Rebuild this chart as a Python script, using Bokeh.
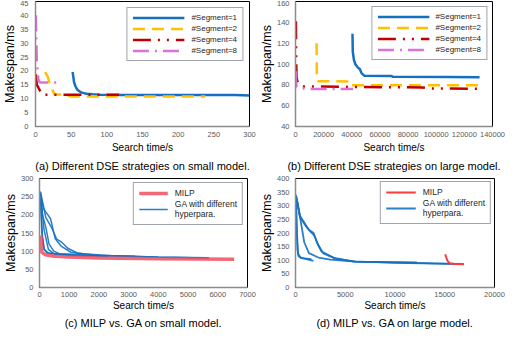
from bokeh.plotting import figure
from bokeh.layouts import column, row
from bokeh.models import Range1d, FixedTicker, Legend, LegendItem, Title, BasicTickFormatter
from bokeh.embed import file_html
from bokeh.resources import INLINE

FONT = "Liberation Sans"

# ---------------- data (a) small model, DSE strategies ----------------
a_x_ticks = [0, 50, 100, 150, 200, 250, 300]
a_y_ticks = [0, 5, 10, 15, 20, 25, 30, 35, 40, 45]
a_seg1_x = [52, 53, 54, 56, 58.5, 61, 64, 68, 72, 80, 90, 120, 280, 300]
a_seg1_y = [19.6, 18.0, 16.0, 14.5, 13.3, 12.8, 12.3, 12.0, 11.8, 11.6, 11.4, 11.3, 11.3, 11.2]
a_seg2_x = [13.5, 17, 20, 23, 27, 43, 47, 50, 238]
a_seg2_y = [19.6, 18.0, 15.5, 13.5, 11.5, 11.5, 11.0, 10.8, 10.8]
a_seg4_x = [0.5, 1, 2, 5, 8, 10, 117]
a_seg4_y = [18.8, 17, 15, 13.5, 12, 11.4, 11.4]
a_seg8_x = [0.5, 1, 1.5, 2, 3, 4, 6, 30]
a_seg8_y = [40, 33, 27, 23, 19.6, 17, 15.8, 15.8]

# ---------------- data (b) large model, DSE strategies ----------------
b_x_ticks = [0, 20000, 40000, 60000, 80000, 100000, 120000, 140000]
b_y_ticks = [40, 60, 80, 100, 120, 140, 160]
b_seg1_x = [40500, 40700, 41500, 42500, 44000, 45800, 47000, 49000, 68000, 69000, 108000, 130800]
b_seg1_y = [129, 112, 104, 100, 97, 95, 91, 88.8, 88.5, 87.8, 87.5, 87.3]
b_seg2_x = [15000, 15200, 16000, 38000, 38500, 130500]
b_seg2_y = [120, 84, 83.5, 83.3, 79.5, 79.5]
b_seg4_x = [300, 500, 700, 1200, 2500, 4500, 40000, 90000, 95000, 130000]
b_seg4_y = [141, 105, 88, 84, 81, 78.5, 78, 77.5, 76.5, 76.3]
b_seg8_x = [200, 400, 800, 2000, 6000, 10000, 41000]
b_seg8_y = [93, 82, 78, 77, 76.5, 76, 76]

# ---------------- data (c) small model, MILP vs GA ----------------
c_x_ticks = [0, 1000, 2000, 3000, 4000, 5000, 6000, 7000]
c_y_ticks = [0, 50, 100, 150, 200, 250, 300]
c_milp_x = [50, 60, 80, 200, 500, 1000, 2000, 4000, 6550]
c_milp_y = [143, 120, 97, 90, 86, 84, 81, 79, 78]
c_ga_xs = [
    [20, 60, 100, 160, 250, 500, 1000, 1530],
    [30, 100, 210, 320, 480, 700, 1500, 3220],
    [40, 210, 420, 580, 740, 950, 1270, 2000, 4000, 5700],
    [30, 150, 370, 530, 740, 1055, 1500, 2400, 4000, 5700],
    [40, 150, 300, 500, 1000, 2300],
    [30, 80, 150, 300, 700, 1200],
]
c_ga_ys = [
    [265, 200, 140, 105, 95, 92, 91, 90],
    [258, 200, 167, 120, 100, 92, 88, 86],
    [262, 193, 163, 133, 125, 108, 95, 88, 84, 82],
    [250, 215, 190, 134, 113, 97, 92, 88, 83, 81],
    [255, 160, 105, 92, 88, 86],
    [262, 150, 105, 95, 92, 91],
]

# ---------------- data (d) large model, MILP vs GA ----------------
d_x_ticks = [0, 5000, 10000, 15000, 20000]
d_y_ticks = [0, 50, 100, 150, 200, 250, 300, 350, 400]
d_milp_x = [15050, 15150, 15300, 15500, 16000, 16900]
d_milp_y = [122, 110, 97, 89, 86, 85.5]
d_ga_xs = [
    [50, 150, 250, 500, 1000, 1800],
    [30, 100, 200, 300, 600, 1600],
    [80, 400, 880, 1350, 2300, 3500, 6000, 12200],
    [100, 410, 1040, 1350, 1820, 2140, 2610, 3870, 5750, 10000, 16900],
    [120, 500, 1100, 1500, 1900, 2300, 2800, 4000, 6000, 12000, 16900],
]
d_ga_ys = [
    [340, 200, 125, 110, 105, 98],
    [330, 230, 140, 115, 108, 104],
    [335, 270, 166, 126, 110, 102, 95, 92],
    [330, 265, 229, 212, 200, 166, 132, 109, 96, 90, 86],
    [325, 255, 222, 205, 190, 155, 125, 106, 95, 90, 86],
]

captions = ["(a) Different DSE strategies on small model.",
            "(b) Different DSE strategies on large model.",
            "(c) MILP vs. GA on small model.",
            "(d) MILP vs. GA on large model."]

BLUE = "#1570C0"
YELLOW = "#FFC000"
DARKRED = "#C00000"
PINK = "#DC72D6"


def make_fig(w, h, xr, yr, xt, yt, caption, bl, br, bt, bb,
             ystand, xstand, xlab_stand, cap_stand):
    p = figure(width=w, height=h, x_range=Range1d(*xr), y_range=Range1d(*yr),
               output_backend="svg", toolbar_location=None, title=None,
               min_border_left=bl, min_border_right=br,
               min_border_top=bt, min_border_bottom=bb)
    p.grid.visible = False
    p.outline_line_color = "black"
    p.outline_line_width = 1
    p.background_fill_color = "white"
    p.border_fill_color = "white"
    p.xaxis.ticker = FixedTicker(ticks=xt)
    p.yaxis.ticker = FixedTicker(ticks=yt)
    for ax in (p.xaxis[0], p.yaxis[0]):
        ax.major_tick_line_color = None
        ax.minor_tick_line_color = None
        ax.major_tick_out = 0
        ax.major_tick_in = 0
        ax.minor_tick_out = 0
        ax.minor_tick_in = 0
        ax.axis_line_color = "#8C8C8C"
        ax.axis_line_width = 1.5
        ax.major_label_text_font = FONT
        ax.major_label_text_font_size = "7.5px"
        ax.major_label_text_color = "#595959"
        ax.axis_label_text_font = FONT
        ax.axis_label_text_font_style = "normal"
        ax.axis_label_text_color = "black"
        ax.formatter = BasicTickFormatter(use_scientific=False)
    p.xaxis.axis_label = "Search time/s"
    p.xaxis.axis_label_text_font_size = "10px"
    p.xaxis.axis_label_standoff = xlab_stand
    p.xaxis.major_label_standoff = xstand
    p.yaxis.axis_label = "Makespan/ms"
    p.yaxis.axis_label_text_font_size = "12.5px"
    p.yaxis.axis_label_standoff = 0
    p.yaxis.major_label_standoff = ystand
    p.add_layout(Title(text=caption, align="center", text_font=FONT,
                       text_font_size="11px", text_font_style="normal",
                       text_color="black", standoff=cap_stand), "below")
    return p


def style_legend(leg, fs, gw, gh, stand, pad, spacing, margin):
    leg.location = "top_right"
    leg.margin = margin
    leg.border_line_color = "#3D4B5C"
    leg.border_line_width = 1.5
    leg.background_fill_color = "white"
    leg.background_fill_alpha = 1
    leg.label_text_font = FONT
    leg.label_text_font_size = fs
    leg.label_text_color = "#262626"
    leg.glyph_width = gw
    leg.glyph_height = gh
    leg.label_height = gh
    leg.label_standoff = stand
    leg.padding = pad
    leg.spacing = spacing


# (a)
pa = make_fig(256, 174, (0, 300), (0, 45), a_x_ticks, a_y_ticks, captions[0],
              32, 7, 1, 44, 7, 5, 2, 5)
ra1 = pa.line(a_seg1_x, a_seg1_y, line_color=BLUE, line_width=2.5)
ra2 = pa.line(a_seg2_x, a_seg2_y, line_color=YELLOW, line_width=2.5, line_dash="12 7")
ra4 = pa.line(a_seg4_x, a_seg4_y, line_color=DARKRED, line_width=2.5, line_dash="18 7 2 7 2 7")
ra8 = pa.line(a_seg8_x, a_seg8_y, line_color=PINK, line_width=2.5, line_dash="16 6 2 6")
la = Legend(items=[LegendItem(label="#Segment=1", renderers=[ra1]),
                   LegendItem(label="#Segment=2", renderers=[ra2]),
                   LegendItem(label="#Segment=4", renderers=[ra4]),
                   LegendItem(label="#Segment=8", renderers=[ra8])])
style_legend(la, "8px", 52, 9, 7, 5, 2, 6)
pa.add_layout(la)

# (b)
pb = make_fig(249, 174, (0, 140000), (40, 160), b_x_ticks, b_y_ticks, captions[1],
              35, 13, 1, 44, 6, 5, 2, 5)
rb1 = pb.line(b_seg1_x, b_seg1_y, line_color=BLUE, line_width=2.5)
rb2 = pb.line(b_seg2_x, b_seg2_y, line_color=YELLOW, line_width=2.5, line_dash="12 7")
rb4 = pb.line(b_seg4_x, b_seg4_y, line_color=DARKRED, line_width=2.5, line_dash="18 7 2 7 2 7")
rb8 = pb.line(b_seg8_x, b_seg8_y, line_color=PINK, line_width=2.5, line_dash="16 6 2 6")
lb = Legend(items=[LegendItem(label="#Segment=1", renderers=[rb1]),
                   LegendItem(label="#Segment=2", renderers=[rb2]),
                   LegendItem(label="#Segment=4", renderers=[rb4]),
                   LegendItem(label="#Segment=8", renderers=[rb8])])
style_legend(lb, "8px", 52, 9, 6, 5, 2, 5)
pb.add_layout(lb)

# (c)
pc = make_fig(256, 155, (0, 7000), (0, 300), c_x_ticks, c_y_ticks, captions[2],
              32, 9, 4, 38, 6, 4, 0, 2)
rcg = pc.multi_line(c_ga_xs, c_ga_ys, line_color=BLUE, line_width=1.5, line_alpha=0.9)
rcm = pc.line(c_milp_x, c_milp_y, line_color="#F04E5E", line_width=3.5, line_alpha=0.85)
lc = Legend(items=[LegendItem(label="MILP", renderers=[rcm]),
                   LegendItem(label="GA with different\nhyperpara.", renderers=[rcg])])
style_legend(lc, "8.5px", 29, 10, 7, 5, 1, 4)
pc.add_layout(lc)

# (d)
pd_ = make_fig(249, 155, (0, 20000), (0, 400), d_x_ticks, d_y_ticks, captions[3],
               35, 11, 4, 38, 6, 4, 0, 2)
rdg = pd_.multi_line(d_ga_xs, d_ga_ys, line_color=BLUE, line_width=1.8, line_alpha=0.9)
rdm = pd_.line(d_milp_x, d_milp_y, line_color="#FF3B3B", line_width=2)
ld = Legend(items=[LegendItem(label="MILP", renderers=[rdm]),
                   LegendItem(label="GA with different\nhyperpara.", renderers=[rdg])])
style_legend(ld, "8.5px", 30, 10, 7, 5, 1, 3)
pd_.add_layout(ld)

layout = column(row(pa, pb), row(pc, pd_))
open("out.html", "w").write(file_html(layout, INLINE))
